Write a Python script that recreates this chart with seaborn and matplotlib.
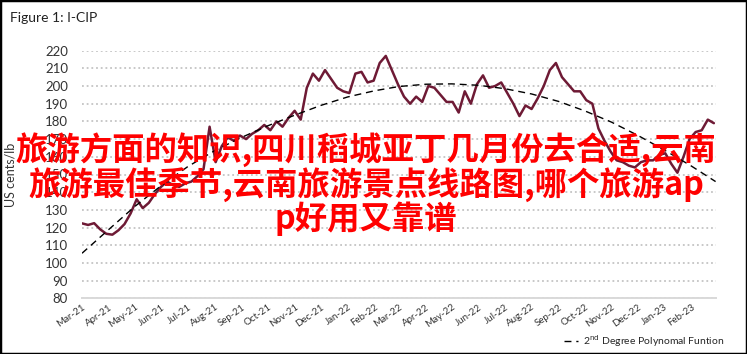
import numpy as np
import pandas as pd
import matplotlib
matplotlib.use('Agg')
import matplotlib.pyplot as plt
from matplotlib.patches import Rectangle
import matplotlib.dates as mdates
import seaborn as sns

# Weekly I-CIP readings (US cents/lb), first week starting 1 Mar 2021
week_start = '2021-03-01'
icip = [
    122.4, 121.5, 122.5, 119.0, 116.5, 116.0, 118.5, 122.0, 128.0, 136.0,
    131.0, 134.0, 139.0, 143.0, 146.0, 144.0, 143.0, 145.0, 146.0, 149.0,
    153.0, 177.0, 157.0, 166.0, 171.0, 169.0, 172.0, 170.0, 173.0, 175.0,
    178.0, 175.0, 180.0, 177.0, 182.0, 186.0, 181.0, 199.0, 207.0, 203.0,
    209.0, 204.0, 199.0, 197.0, 196.0, 207.0, 208.0, 202.0, 203.0, 213.0,
    217.0, 209.0, 201.0, 194.0, 190.0, 194.0, 191.0, 200.0, 199.0, 195.0,
    191.0, 191.0, 185.0, 197.0, 190.0, 201.0, 206.0, 199.0, 200.0, 202.0,
    196.0, 190.0, 183.0, 189.0, 187.0, 193.0, 200.0, 209.0, 213.0, 205.0,
    201.0, 197.0, 197.0, 192.0, 190.0, 176.0, 169.0, 163.0, 158.0, 157.0,
    155.0, 154.0, 157.0, 158.0, 158.0, 161.0, 162.0, 156.0, 151.0, 160.0,
    170.0, 174.0, 175.0, 181.0, 179.0,
]

# 2nd degree polynomial trend, read at the start of each month (Mar-21 .. Mar-23)
trend = [
    105.5, 119.0, 132.0, 144.0, 154.5, 163.5, 171.0, 177.5, 183.5, 189.0,
    193.8, 197.3, 199.7, 201.0, 201.2, 200.4, 198.5, 195.5, 191.3, 186.0,
    179.6, 172.2, 163.8, 154.8, 146.0,
]

overlay_lines = [
    '旅游方面的知识,四川稻城亚丁几月份去合适,云南',
    '旅游最佳季节,云南旅游景点线路图,哪个旅游ap',
    'p好用又靠谱',
]

W, H = 747, 354

df = pd.DataFrame({
    'date': pd.date_range(week_start, periods=len(icip), freq='7D'),
    'icip': icip,
})
df_trend = pd.DataFrame({
    'date': pd.date_range('2021-03-01', periods=len(trend), freq='MS'),
    'trend': trend,
})

sns.set_style('white')
plt.rcParams['font.family'] = ['Lato', 'DejaVu Sans']

fig = plt.figure(figsize=(W / 100, H / 100), dpi=100)
ax = fig.add_axes([82 / W, 1 - 298.4 / H, 633.6 / W, 247.8 / H])

sns.lineplot(data=df, x='date', y='icip', ax=ax, color='#6E1A35',
             linewidth=1.8, legend=False)
sns.lineplot(data=df_trend, x='date', y='trend', ax=ax, color='black',
             linewidth=1.0, dashes=False, label='2$^{\\rm nd}$ Degree Polynomal Funtion')
ax.lines[-1].set_dashes((5, 3.5))

ax.set_xlim(pd.Timestamp('2021-03-01'), pd.Timestamp('2023-03-01'))
ax.set_ylim(80, 220)
ax.set_yticks(np.arange(80, 221, 10))
ax.set_xticks(pd.date_range('2021-03-01', '2023-02-01', freq='MS'))
ax.xaxis.set_major_formatter(mdates.DateFormatter('%b-%y'))

ax.yaxis.grid(True, linestyle=(0, (1, 1.6)), color='#C4C4C4', linewidth=1.3)
ax.xaxis.grid(False)
ax.set_axisbelow(True)
for s in ['top', 'right', 'left']:
    ax.spines[s].set_visible(False)
ax.spines['bottom'].set_color('#D9D9D9')
ax.spines['bottom'].set_linewidth(1.4)

ax.tick_params(axis='y', length=0, pad=10, labelsize=9.5, labelcolor='#333333')
ax.tick_params(axis='x', length=0, pad=3, labelsize=7, labelcolor='#333333')
for lbl in ax.get_xticklabels():
    lbl.set_rotation(35)
    lbl.set_ha('right')
    lbl.set_rotation_mode('anchor')

ax.set_xlabel('')
ax.set_ylabel('US cents/lb', fontsize=9, color='#333333')
ax.yaxis.set_label_coords(-0.103, 0.5)

ax.legend(loc='center right', bbox_to_anchor=(724 / W, 1 - 341 / H),
          bbox_transform=fig.transFigure, frameon=False, fontsize=7.5,
          handlelength=1.4, handletextpad=0.4, borderaxespad=0, borderpad=0)

fig.text(10 / W, 1 - 17.5 / H, 'Figure 1: I-CIP', ha='left', va='center',
         fontsize=10, color='#222222')

for txt, yc in zip(overlay_lines, [150, 185, 219]):
    fig.text(366 / W, 1 - yc / H, txt, ha='center', va='center', fontsize=23.3,
             color='#FF0000', fontweight='bold',
             family=['Noto Sans CJK SC', 'DejaVu Sans'])

fig.patches.append(Rectangle((0, 0), 1, 1, transform=fig.transFigure,
                             fill=False, edgecolor='black', linewidth=2.5))

fig.savefig('out.png', dpi=100)
